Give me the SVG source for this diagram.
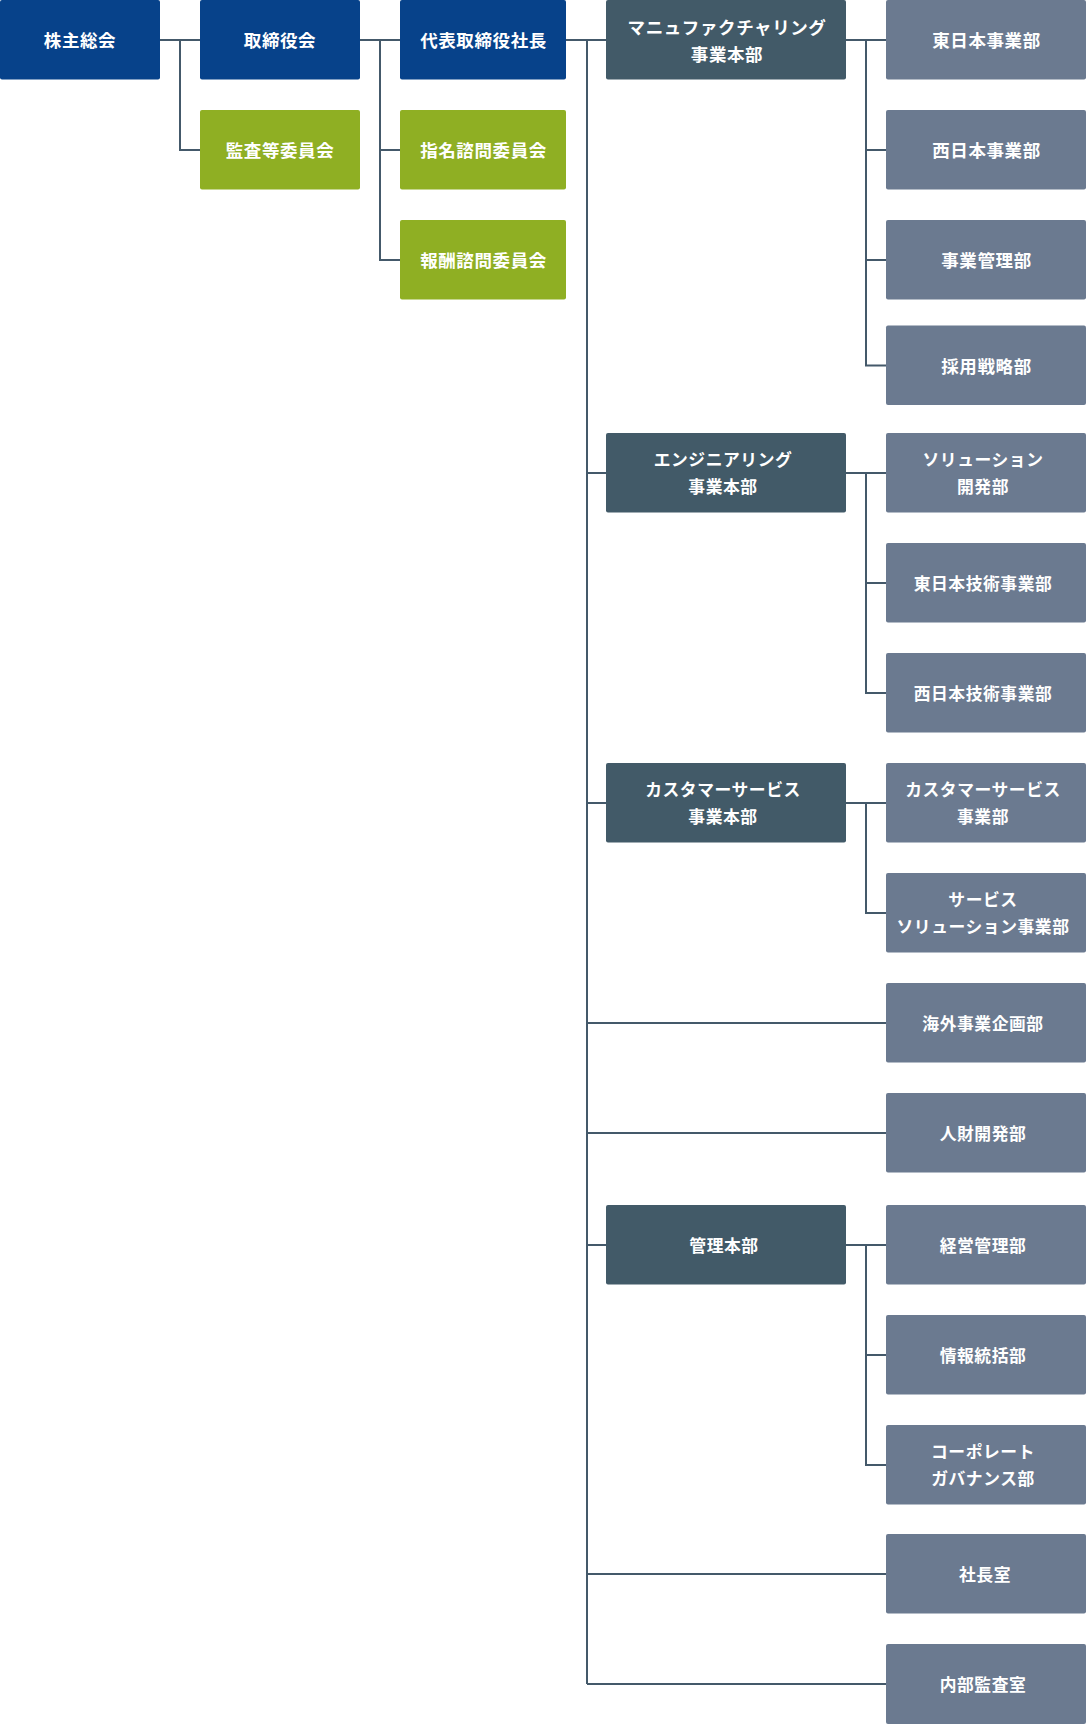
<svg xmlns="http://www.w3.org/2000/svg" width="1086" height="1724" viewBox="0 0 1086 1724">
<style>
.t{font-family:"Noto Sans CJK JP","Noto Sans",sans-serif;font-weight:700;font-size:17.5px;fill:#ffffff;text-anchor:middle;letter-spacing:0.6px}
.s{font-size:16.8px;letter-spacing:0.55px}
.navy{fill:#07428a}
.green{fill:#8faf23}
.dark{fill:#425a68}
.gray{fill:#6b7a90}
.ln{fill:none;stroke:#44596a;stroke-width:2}
</style>
<rect width="1086" height="1724" fill="#ffffff"/>
<g id="connectors" class="ln">
<path d="M160 40H200M180 40V150H200"/>
<path d="M360 40H400M380 40V260H400M380 150H400"/>
<path d="M566 40H606M587 40V1684"/>
<path d="M587 473H606M587 803H606M587 1245H606"/>
<path d="M587 1023H886M587 1133H886M587 1574H886M587 1684H886"/>
<path d="M846 40H886M866 40V365.5H886M866 150H886M866 260H886"/>
<path d="M846 473H886M866 473V693H886M866 583H886"/>
<path d="M846 803H886M866 803V913H886"/>
<path d="M846 1245H886M866 1245V1465H886M866 1355H886"/>
</g>
<g id="n-kabunushi"><rect class="navy" x="0" y="0" width="160" height="79.5" rx="2"/><text class="t" x="80" y="47">株主総会</text></g>
<g id="n-torishimariyaku"><rect class="navy" x="200" y="0" width="160" height="79.5" rx="2"/><text class="t" x="280" y="47">取締役会</text></g>
<g id="n-shacho"><rect class="navy" x="400" y="0" width="166" height="79.5" rx="2"/><text class="t" x="483.5" y="47">代表取締役社長</text></g>
<g id="n-kansa"><rect class="green" x="200" y="110" width="160" height="79.5" rx="2"/><text class="t" x="280" y="157">監査等委員会</text></g>
<g id="n-shimei"><rect class="green" x="400" y="110" width="166" height="79.5" rx="2"/><text class="t" x="483.5" y="157">指名諮問委員会</text></g>
<g id="n-hoshu"><rect class="green" x="400" y="220" width="166" height="79.5" rx="2"/><text class="t" x="483.5" y="267">報酬諮問委員会</text></g>

<g id="n-manu"><rect class="dark" x="606" y="0" width="240" height="79.5" rx="2"/><text class="t" x="727" y="33.5">マニュファクチャリング</text><text class="t" x="727" y="60.5">事業本部</text></g>
<g id="n-eng"><rect class="dark" x="606" y="433" width="240" height="79.5" rx="2"/><text class="t s" x="723" y="466">エンジニアリング</text><text class="t s" x="723" y="493">事業本部</text></g>
<g id="n-cs"><rect class="dark" x="606" y="763" width="240" height="79.5" rx="2"/><text class="t s" x="723" y="796">カスタマーサービス</text><text class="t s" x="723" y="823">事業本部</text></g>
<g id="n-kanri"><rect class="dark" x="606" y="1205" width="240" height="79.5" rx="2"/><text class="t s" x="724" y="1251.5">管理本部</text></g>

<g id="n-higashi"><rect class="gray" x="886" y="0" width="200" height="79.5" rx="2"/><text class="t" x="986.5" y="47">東日本事業部</text></g>
<g id="n-nishi"><rect class="gray" x="886" y="110" width="200" height="79.5" rx="2"/><text class="t" x="986.5" y="157">西日本事業部</text></g>
<g id="n-jigyokanri"><rect class="gray" x="886" y="220" width="200" height="79.5" rx="2"/><text class="t" x="986.5" y="267">事業管理部</text></g>
<g id="n-saiyo"><rect class="gray" x="886" y="325.5" width="200" height="79.5" rx="2"/><text class="t" x="986.5" y="372.5">採用戦略部</text></g>
<g id="n-solution"><rect class="gray" x="886" y="433" width="200" height="79.5" rx="2"/><text class="t s" x="983" y="466">ソリューション</text><text class="t s" x="983" y="493">開発部</text></g>
<g id="n-higashigijutsu"><rect class="gray" x="886" y="543" width="200" height="79.5" rx="2"/><text class="t s" x="983" y="589.5">東日本技術事業部</text></g>
<g id="n-nishigijutsu"><rect class="gray" x="886" y="653" width="200" height="79.5" rx="2"/><text class="t s" x="983" y="699.5">西日本技術事業部</text></g>
<g id="n-csjigyo"><rect class="gray" x="886" y="763" width="200" height="79.5" rx="2"/><text class="t s" x="983" y="796">カスタマーサービス</text><text class="t s" x="983" y="823">事業部</text></g>
<g id="n-service"><rect class="gray" x="886" y="873" width="200" height="79.5" rx="2"/><text class="t s" x="983" y="906">サービス</text><text class="t s" x="983" y="933">ソリューション事業部</text></g>
<g id="n-kaigai"><rect class="gray" x="886" y="983" width="200" height="79.5" rx="2"/><text class="t s" x="983" y="1029.5">海外事業企画部</text></g>
<g id="n-jinzai"><rect class="gray" x="886" y="1093" width="200" height="79.5" rx="2"/><text class="t s" x="983" y="1139.5">人財開発部</text></g>
<g id="n-keiei"><rect class="gray" x="886" y="1205" width="200" height="79.5" rx="2"/><text class="t s" x="983" y="1251.5">経営管理部</text></g>
<g id="n-joho"><rect class="gray" x="886" y="1315" width="200" height="79.5" rx="2"/><text class="t s" x="983" y="1361.5">情報統括部</text></g>
<g id="n-corporate"><rect class="gray" x="886" y="1425" width="200" height="79.5" rx="2"/><text class="t s" x="983" y="1458">コーポレート</text><text class="t s" x="983" y="1485">ガバナンス部</text></g>
<g id="n-shachoshitsu"><rect class="gray" x="886" y="1534" width="200" height="79.5" rx="2"/><text class="t s" x="985" y="1580.5">社長室</text></g>
<g id="n-naibu"><rect class="gray" x="886" y="1644" width="200" height="80" rx="2"/><text class="t s" x="983" y="1690.5">内部監査室</text></g>
</svg>
